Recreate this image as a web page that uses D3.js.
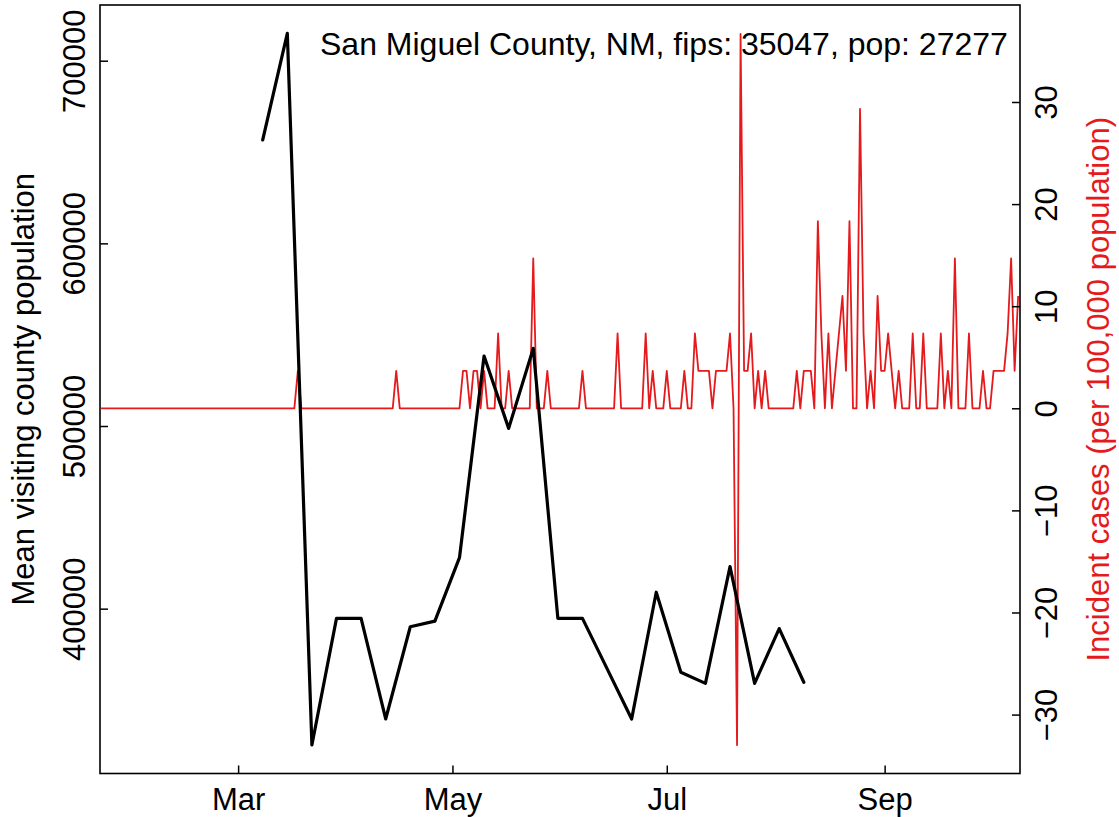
<!DOCTYPE html>
<html>
<head>
<meta charset="utf-8">
<script src="https://cdn.jsdelivr.net/npm/d3@7"></script>
<style>
  html, body { margin: 0; padding: 0; background: #ffffff; }
  svg { display: block; font-family: "Liberation Sans", Arial, Helvetica, sans-serif; }
</style>
</head>
<body>
<svg id="chart" width="1119" height="817"></svg>
<script>
// ---------- data ----------
const titleText = "San Miguel County, NM, fips: 35047, pop: 27277";
const leftLabel = "Mean visiting county population";
const rightLabel = "Incident cases (per 100,000 population)";

// weekly mean visiting population (black line)
const visitDates = ["2020-03-08","2020-03-15","2020-03-22","2020-03-29","2020-04-05","2020-04-12",
  "2020-04-19","2020-04-26","2020-05-03","2020-05-10","2020-05-17","2020-05-24","2020-05-31",
  "2020-06-07","2020-06-14","2020-06-21","2020-06-28","2020-07-05","2020-07-12","2020-07-19",
  "2020-07-26","2020-08-02","2020-08-09"];
const visitValues = [656600, 715000, 325350, 394700, 394700, 339600,
  390100, 393200, 427900, 538300, 498700, 542500, 394700,
  394700, 367150, 339600, 409000, 365200, 359100, 423000,
  359100, 389100, 359700];

// daily incident cases per 100,000 (red line), first day 2020-01-22
const caseStart = "2020-01-22";
const caseRates = [
  0,0,0,0,0,0,0,0,0,0, 0,0,0,0,0,0,0,0,0,0, 0,0,0,0,0,0,0,0,0,0,
  0,0,0,0,0,0,0,0,0,0, 0,0,0,0,0,0,0,0,0,0, 0,0,0,0,0,0,3.67,0,0,0,
  0,0,0,0,0,0,0,0,0,0, 0,0,0,0,0,0,0,0,0,0, 0,0,0,0,3.67,0,0,0,0,0,
  0,0,0,0,0,0,0,0,0,0,
  0,0,0,3.67,3.67,0,3.67,3.67,0,3.67, 0,0,0,7.33,0,0,3.67,0,0,0,
  0,0,0,14.67,0,0,0,3.67,0,0, 0,0,0,0,0,0,0,3.67,0,0,
  0,0,0,0,0,0,0,7.33,0,0, 0,0,0,0,0,7.33,0,3.67,0,0,
  0,3.67,0,0,0,0,3.67,0,0,7.33, 3.67,3.67,3.67,3.67,0,3.67,3.67,3.67,3.67,7.33,
  0,-32.99,36.66,3.67,3.67,7.33,0,3.67,0,3.67, 0,0,0,0,0,0,0,0,3.67,0,
  3.67,3.67,3.67,0,18.33,7.33,0,7.33,0,3.67, 7.33,11.0,3.67,18.33,0,0,29.33,7.33,0,3.67,
  0,11.0,3.67,3.67,7.33,3.67,0,3.67,0,0, 0,7.33,0,0,7.33,0,0,0,0,7.33,
  0,3.67,0,14.67,0,0,0,7.33,0,0, 0,3.67,0,0,3.67,3.67,3.67,3.67,7.33,14.67,
  3.67,11.0
];

const xTickDates = ["2020-03-01","2020-05-01","2020-07-01","2020-09-01"];
const xTickLabels = ["Mar","May","Jul","Sep"];
const leftTicks = [400000, 500000, 600000, 700000];
const rightTicks = [-30, -20, -10, 0, 10, 20, 30];

// ---------- layout ----------
const W = 1119, H = 817;
const L = 100, R = 1020, T = 5, B = 773.5;
const red = "#E41A1C";
const fontSize = 31;
const tickLen = 8;

const parse = d3.utcParse("%Y-%m-%d");
const day = 86400000;
const start = parse(caseStart);
const caseData = caseRates.map((v, i) => ({ date: new Date(start.getTime() + i * day), value: v }));
const visitData = visitDates.map((d, i) => ({ date: parse(d), value: visitValues[i] }));

const x = d3.scaleUtc()
  .domain([new Date(start.getTime() - 0.31 * day), new Date(start.getTime() + 261.53 * day)])
  .range([L, R]);
const yL = d3.scaleLinear().domain([309750, 730500]).range([B, T]);
const yR = d3.scaleLinear().domain([-35.77, 39.50]).range([B, T]);

const svg = d3.select("#chart");
svg.append("rect").attr("width", W).attr("height", H).attr("fill", "#fff");

// red line
svg.append("path").datum(caseData)
  .attr("fill", "none").attr("stroke", red).attr("stroke-width", 1.8)
  .attr("stroke-linejoin", "round")
  .attr("d", d3.line().x(d => x(d.date)).y(d => yR(d.value)));

// black line
svg.append("path").datum(visitData)
  .attr("fill", "none").attr("stroke", "#000").attr("stroke-width", 3.2)
  .attr("stroke-linejoin", "round").attr("stroke-linecap", "round")
  .attr("d", d3.line().x(d => x(d.date)).y(d => yL(d.value)));

// axes (ticks inward)
const gB = svg.append("g").attr("transform", `translate(0,${B})`)
  .call(d3.axisBottom(x).tickValues(xTickDates.map(parse)).tickSize(-tickLen)
    .tickFormat((d, i) => xTickLabels[i]));
gB.select(".domain").remove();
gB.selectAll("line").attr("stroke", "#000").attr("stroke-width", 1.5);
gB.selectAll("text").attr("y", 810 - B).attr("dy", null).attr("font-size", fontSize)
  .attr("font-family", "Liberation Sans, Arial, sans-serif").attr("fill", "#000");

const gL = svg.append("g").attr("transform", `translate(${L},0)`)
  .call(d3.axisLeft(yL).tickValues(leftTicks).tickSize(-tickLen).tickFormat(d3.format("d")));
gL.select(".domain").remove();
gL.selectAll("line").attr("stroke", "#000").attr("stroke-width", 1.5);
gL.selectAll("text").remove();
gL.selectAll(".tick").append("text")
  .attr("transform", `translate(${85 - L},0) rotate(-90)`)
  .attr("text-anchor", "middle").attr("font-size", fontSize).attr("fill", "#000")
  .attr("font-family", "Liberation Sans, Arial, sans-serif")
  .text(d => d3.format("d")(d));

const gR = svg.append("g").attr("transform", `translate(${R},0)`)
  .call(d3.axisRight(yR).tickValues(rightTicks).tickSize(-tickLen).tickFormat(d3.format("d")));
gR.select(".domain").remove();
gR.selectAll("line").attr("stroke", "#000").attr("stroke-width", 1.5);
gR.selectAll("text").remove();
gR.selectAll(".tick").append("text")
  .attr("transform", `translate(${1057 - R},0) rotate(-90)`)
  .attr("text-anchor", "middle").attr("font-size", fontSize).attr("fill", "#000")
  .attr("font-family", "Liberation Sans, Arial, sans-serif")
  .text(d => d < 0 ? "\u2212" + Math.abs(d) : String(d));

// box
svg.append("rect").attr("x", L).attr("y", T).attr("width", R - L).attr("height", B - T)
  .attr("fill", "none").attr("stroke", "#000").attr("stroke-width", 1.6);

// axis titles
svg.append("text").attr("transform", `translate(34,${(T + B) / 2}) rotate(-90)`)
  .attr("text-anchor", "middle").attr("font-size", fontSize).attr("fill", "#000")
  .text(leftLabel);
svg.append("text").attr("transform", `translate(1109,${(T + B) / 2}) rotate(-90)`)
  .attr("text-anchor", "middle").attr("font-size", fontSize).attr("fill", red)
  .text(rightLabel);

// title / legend text
svg.append("text").attr("x", 320).attr("y", 55)
  .attr("font-size", 32).attr("fill", "#000").text(titleText);
</script>
</body>
</html>
